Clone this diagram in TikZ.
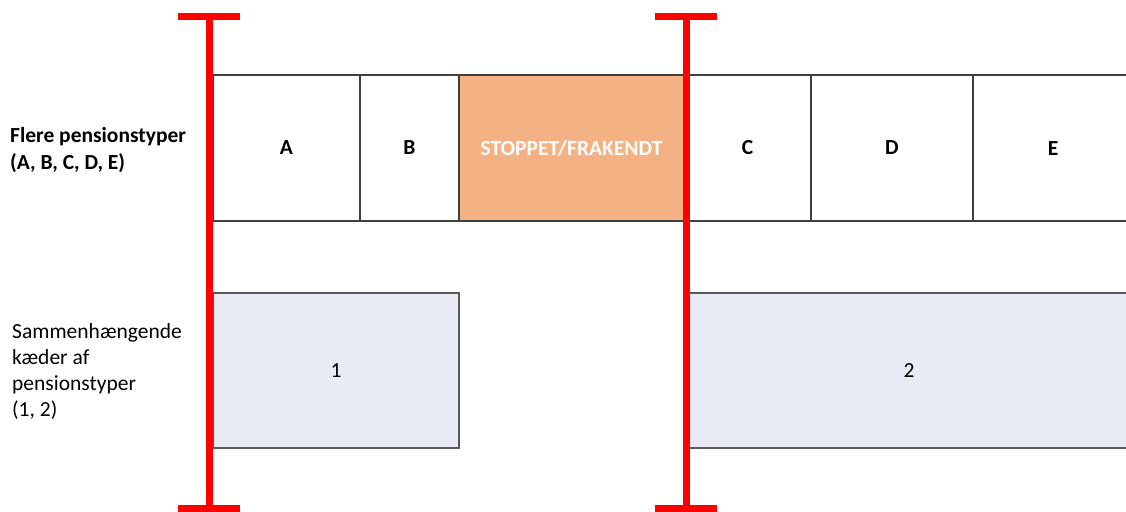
\documentclass[tikz,border=0pt]{standalone}
\usepackage{fontspec}
\setmainfont{Carlito}
\begin{document}
\begin{tikzpicture}[x=1pt,y=-1pt,
  cell/.style={draw=black!75, line width=1.2pt, minimum height=146pt, inner sep=0pt, font=\fontsize{21.5}{25}\selectfont\bfseries},
  chain/.style={draw=black!65, line width=1.2pt, fill=chainfill, minimum height=155pt, inner sep=0pt, font=\fontsize{21.5}{25}\selectfont},
  redbar/.style={draw=red, line width=7pt},
  lbl/.style={anchor=north west, align=left, inner sep=0pt, font=\fontsize{21.5}{26}\selectfont}]
\definecolor{chainfill}{HTML}{E8EBF5}
\definecolor{stopfill}{HTML}{F4B183}
\useasboundingbox (0,0) rectangle (1126,511);
% top row
\node[cell, minimum width=147pt] (A) at (286.5,148) {A};
\node[cell, minimum width=99pt] (B) at (409.5,148) {B};
\node[cell, minimum width=225pt, fill=stopfill, text=white] (S) at (571.5,148) {STOPPET/FRAKENDT};
\node[cell, minimum width=127pt] (C) at (747.5,148) {C};
\node[cell, minimum width=162pt] (D) at (892,148) {D};
\node[cell, minimum width=165pt, text width=0pt] (E) at (1055.5,148) {};
\node[font=\fontsize{21.5}{25}\selectfont\bfseries] (Et) at (1053,149) {E};
% bottom row
\node[chain, minimum width=246pt] (c1) at (336,370.5) {1};
\node[chain, minimum width=445pt, text width=0pt] (c2) at (911.5,370.5) {};
\node[font=\fontsize{21.5}{25}\selectfont] (c2t) at (909,370.5) {2};
% left labels
\node[lbl, font=\fontsize{21.5}{27}\selectfont\bfseries] (L1) at (10,127) {Flere pensionstyper\\(A, B, C, D, E)};
\node[lbl] (L2) at (12,323) {Sammenhængende\\kæder af\\pensionstyper\\(1, 2)};
% red markers
\coordinate (r1t) at (209,17);
\coordinate (r1b) at (209,508);
\coordinate (r2t) at (686,17);
\coordinate (r2b) at (686,508);
\draw[redbar] (r1t) -- (r1b);
\draw[redbar] ([xshift=-31pt]r1t) -- ([xshift=31pt]r1t);
\draw[redbar] ([xshift=-31pt]r1b) -- ([xshift=31pt]r1b);
\draw[redbar] (r2t) -- (r2b);
\draw[redbar] ([xshift=-31pt]r2t) -- ([xshift=31pt]r2t);
\draw[redbar] ([xshift=-31pt]r2b) -- ([xshift=31pt]r2b);
\end{tikzpicture}
\end{document}
